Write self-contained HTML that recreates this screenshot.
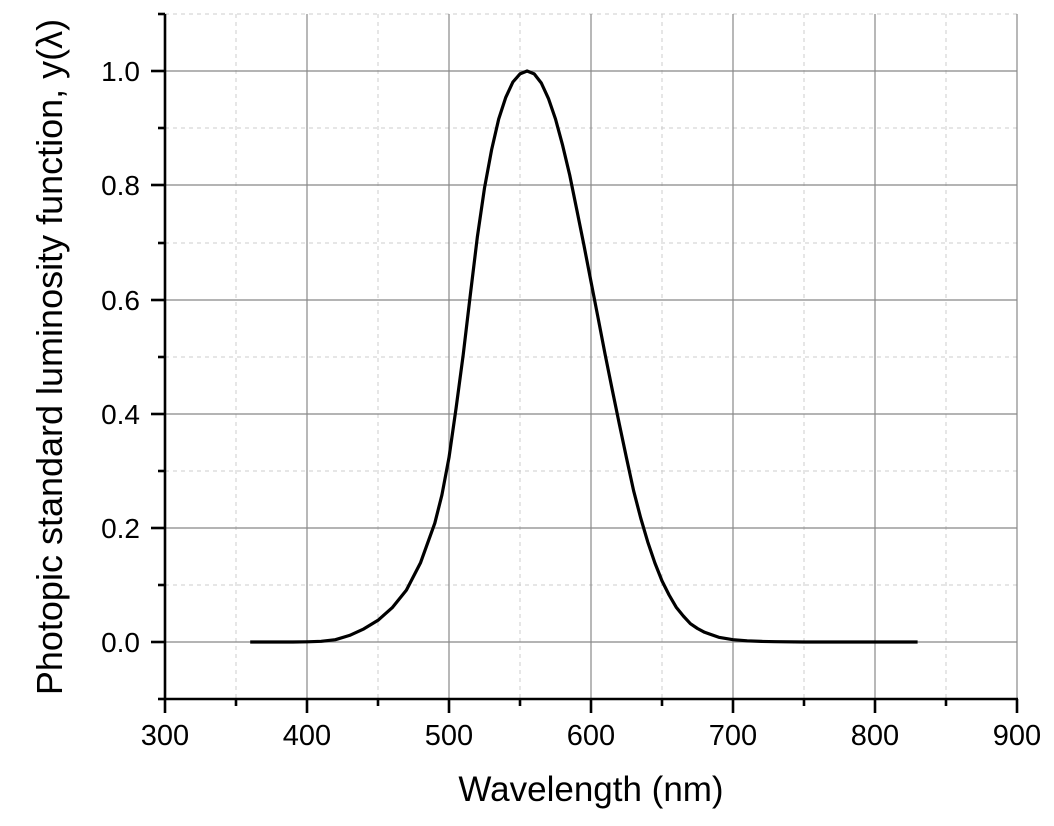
<!DOCTYPE html>
<html><head><meta charset="utf-8"><style>body{margin:0;background:#fff}</style></head><body>
<svg width="1054" height="821" xmlns="http://www.w3.org/2000/svg" font-family="Liberation Sans, sans-serif">
<g stroke="#ccc" stroke-width="1" stroke-dasharray="4,4">
<line x1="236" y1="14" x2="236" y2="699"/><line x1="378" y1="14" x2="378" y2="699"/><line x1="520" y1="14" x2="520" y2="699"/><line x1="662" y1="14" x2="662" y2="699"/><line x1="804" y1="14" x2="804" y2="699"/><line x1="946" y1="14" x2="946" y2="699"/>
<line x1="165" y1="14" x2="1017" y2="14"/><line x1="165" y1="128" x2="1017" y2="128"/><line x1="165" y1="243" x2="1017" y2="243"/><line x1="165" y1="357" x2="1017" y2="357"/><line x1="165" y1="471" x2="1017" y2="471"/><line x1="165" y1="585" x2="1017" y2="585"/>
</g>
<g stroke="#888" stroke-width="1.2">
<line x1="307" y1="14" x2="307" y2="699"/><line x1="449" y1="14" x2="449" y2="699"/><line x1="591" y1="14" x2="591" y2="699"/><line x1="733" y1="14" x2="733" y2="699"/><line x1="875" y1="14" x2="875" y2="699"/><line x1="1017" y1="14" x2="1017" y2="699"/>
<line x1="165" y1="71" x2="1017" y2="71"/><line x1="165" y1="185" x2="1017" y2="185"/><line x1="165" y1="300" x2="1017" y2="300"/><line x1="165" y1="414" x2="1017" y2="414"/><line x1="165" y1="528" x2="1017" y2="528"/><line x1="165" y1="642" x2="1017" y2="642"/>
</g>
<g stroke="#000" stroke-width="2.6">
<line x1="165" y1="14" x2="165" y2="700"/><line x1="164" y1="699" x2="1018" y2="699"/>
<line x1="165" y1="699" x2="165" y2="713"/><line x1="307" y1="699" x2="307" y2="713"/><line x1="449" y1="699" x2="449" y2="713"/><line x1="591" y1="699" x2="591" y2="713"/><line x1="733" y1="699" x2="733" y2="713"/><line x1="875" y1="699" x2="875" y2="713"/><line x1="1017" y1="699" x2="1017" y2="713"/>
<line x1="236" y1="699" x2="236" y2="706"/><line x1="378" y1="699" x2="378" y2="706"/><line x1="520" y1="699" x2="520" y2="706"/><line x1="662" y1="699" x2="662" y2="706"/><line x1="804" y1="699" x2="804" y2="706"/><line x1="946" y1="699" x2="946" y2="706"/>
<line x1="151" y1="71" x2="165" y2="71"/><line x1="151" y1="185" x2="165" y2="185"/><line x1="151" y1="300" x2="165" y2="300"/><line x1="151" y1="414" x2="165" y2="414"/><line x1="151" y1="528" x2="165" y2="528"/><line x1="151" y1="642" x2="165" y2="642"/>
<line x1="158" y1="14" x2="165" y2="14"/><line x1="158" y1="128" x2="165" y2="128"/><line x1="158" y1="243" x2="165" y2="243"/><line x1="158" y1="357" x2="165" y2="357"/><line x1="158" y1="471" x2="165" y2="471"/><line x1="158" y1="585" x2="165" y2="585"/><line x1="158" y1="699" x2="165" y2="699"/>
</g>
<polyline fill="none" stroke="#000" stroke-width="3.2" stroke-linejoin="round" points="250.2,642 264.4,642 278.6,642 292.8,642 307,641.8 321.2,641.3 335.4,639.7 349.6,635.4 363.8,628.9 378,620.3 392.2,607.7 406.4,590.1 420.6,562.6 434.8,523.2 441.9,495 449,457.6 456.1,408 463.2,354.8 470.3,295 477.4,236.6 484.5,188 491.6,149.8 498.7,119 505.8,97.3 512.9,82 520,73.9 527.1,71 534.2,73.9 541.3,83 548.4,98.4 555.5,119 562.6,145.2 569.7,175 576.8,209.8 583.9,245 591,281.7 598.1,318 605.2,354.8 612.3,390 619.4,424.4 626.5,458 633.6,490.7 640.7,518 647.8,542.1 654.9,563 662,580.9 669.1,595 676.2,607.2 683.3,616 690.4,623.7 697.5,628.5 704.6,632.3 718.8,637.3 733,639.7 747.2,640.8 761.4,641.4 775.6,641.7 804,642 917.6,642"/>
<g font-size="28" text-anchor="end" fill="#000">
<text x="140" y="81">1.0</text><text x="140" y="195">0.8</text><text x="140" y="310">0.6</text><text x="140" y="424">0.4</text><text x="140" y="538">0.2</text><text x="140" y="652">0.0</text>
</g>
<g font-size="29" text-anchor="middle" fill="#000">
<text x="165" y="745">300</text><text x="307" y="745">400</text><text x="449" y="745">500</text><text x="591" y="745">600</text><text x="733" y="745">700</text><text x="875" y="745">800</text><text x="1017" y="745">900</text>
</g>
<text x="591" y="801" font-size="35" text-anchor="middle">Wavelength (nm)</text>
<text transform="translate(62,357) rotate(-90)" font-size="36" text-anchor="middle">Photopic standard luminosity function, y(λ)</text>
</svg>
</body></html>
